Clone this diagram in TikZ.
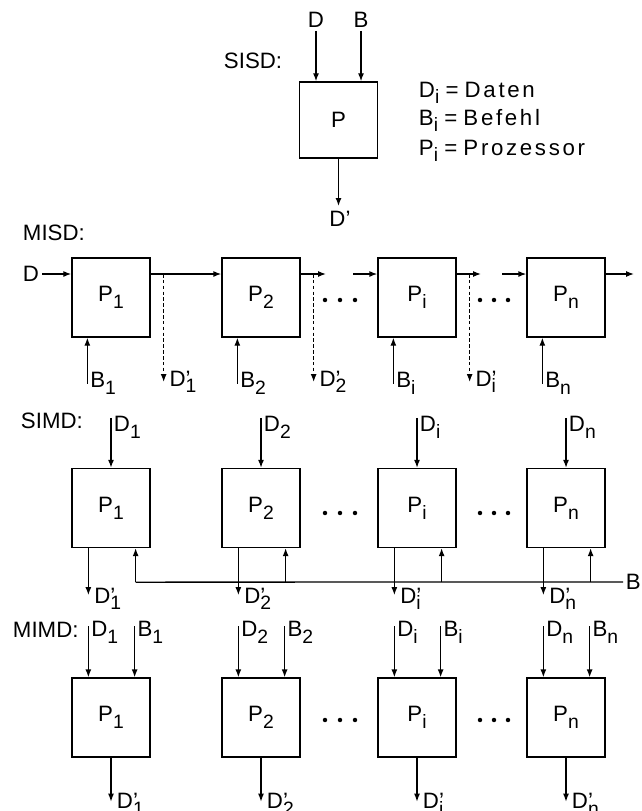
\documentclass[tikz,border=0pt]{standalone}
\usepackage{fontspec}
\setmainfont{Liberation Sans}
\usetikzlibrary{arrows.meta,calc}

\newcommand{\sub}[2]{#1\raisebox{-0.3em}{\fontsize{16.5}{16.5}\selectfont #2}}
\newcommand{\dout}[1]{D\rlap{’}\raisebox{-0.3em}{\fontsize{16.5}{16.5}\selectfont #1}}

\begin{document}
\begin{tikzpicture}[x=0.03cm,y=-0.03cm,
  font=\fontsize{19}{22}\selectfont,
  >={Latex[length=2.4mm,width=1.8mm]}, line width=1.1pt,
  proc/.style={draw,minimum width=2.34cm,minimum height=2.37cm,inner sep=0pt},
  lab/.style={inner sep=2pt}]
  \useasboundingbox (0,0) rectangle (641,811);

  % SISD
  \node[lab,anchor=base west] at (221,68) {SISD:};
  \node[proc,minimum height=2.28cm] (p) at (338.5,120) {P};
  \node[lab,anchor=base] (d) at (316,28) {D};
  \node[lab,anchor=base] (b) at (361,28) {B};
  \draw[->] (d) -- (d |- p.north);
  \draw[->] (b) -- (b |- p.north);
  \coordinate (pout) at (338.5,206);
  \draw[->] (p) -- (pout);
  \node[lab,anchor=base] at (340,226) {D’};
  \node[lab,anchor=base west] at (416,97) {\sub{D}{i} = {\addfontfeatures{LetterSpace=12}Daten}};
  \node[lab,anchor=base west] at (416,125) {\sub{B}{i} = {\addfontfeatures{LetterSpace=12}Befehl}};
  \node[lab,anchor=base west] at (416,155) {\sub{P}{i} = {\addfontfeatures{LetterSpace=12}Prozessor}};

  % MISD
  \node[lab,anchor=base west] at (20,240) {MISD:};
  \node[lab,anchor=west] (md) at (20,274) {D};
  \foreach \k/\x in {1/111,2/261,i/417,n/566}
    \node[proc] (misd\k) at (\x,297.5) {\sub{P}{\k}};
  \coordinate (m2out) at (326,274);
  \coordinate (miin) at (353,274);
  \coordinate (miout) at (481,274);
  \coordinate (mnin) at (502,274);
  \coordinate (mnout) at (634,274);
  \draw[->] (md) -- (md -| misd1.west);
  \draw[->] (misd1.east |- md) -- (misd2.west |- md);
  \draw[->] (misd2.east |- md) -- (m2out);
  \draw[->] (miin) -- (misdi.west |- md);
  \draw[->] (misdi.east |- md) -- (miout);
  \draw[->] (mnin) -- (misdn.west |- md);
  \draw[->] (misdn.east |- md) -- (mnout);
  \foreach \k in {1,2,i} {
    \draw[->,dash pattern=on 3pt off 2pt] ($(misd\k.east |- md)+(13,0)$) coordinate (mt\k) -- ++(0,108) coordinate (mo\k);
    \node[lab,anchor=base west] at ($(mo\k)+(3,4)$) {\dout{\k}};
  }
  \foreach \k in {1,2,i,n} {
    \draw[->] ($(misd\k.south west)+(16,46)$) coordinate (mb\k) -- ($(misd\k.south west)+(16,0)$);
    \node[lab,anchor=base west] at ($(mb\k)+(0,4)$) {\sub{B}{\k}};
  }

  % SIMD
  \node[lab,anchor=base west] at (18,428) {SIMD:};
  \foreach \k/\x in {1/111,2/261,i/417,n/566}
    \node[proc] (simd\k) at (\x,508) {\sub{P}{\k}};
  \foreach \k in {1,2,i,n} {
    \draw[->] ($(simd\k.north)+(0,-50)$) coordinate (sd\k) -- (simd\k.north);
    \node[lab,anchor=base west] at ($(sd\k)+(0,14)$) {\sub{D}{\k}};
    \draw[->] ($(simd\k.south west)+(17,0)$) -- ++(0,47) coordinate (so\k);
    \node[lab,anchor=base west] at ($(so\k)+(3,8)$) {\dout{\k}};
    \draw[->] ($(simd\k.south east)+(-15,34)$) coordinate (su\k) -- ($(simd\k.south east)+(-15,0)$);
  }
  \coordinate (bus) at (623,582);
  \draw (su1) -- (bus);
  \node[lab,anchor=west] at (bus) {B};

  % MIMD
  \node[lab,anchor=base west] at (10,637) {MIMD:};
  \foreach \k/\x in {1/111,2/261,i/417,n/566}
    \node[proc] (mimd\k) at (\x,717.5) {\sub{P}{\k}};
  \foreach \k in {1,2,i,n} {
    \draw[->] ($(mimd\k.north west)+(17,-51)$) coordinate (dd\k) -- ($(mimd\k.north west)+(17,0)$);
    \node[lab,anchor=base west] at ($(dd\k)+(0,10)$) {\sub{D}{\k}};
    \draw[->] ($(mimd\k.north east)+(-16,-51)$) coordinate (bb\k) -- ($(mimd\k.north east)+(-16,0)$);
    \node[lab,anchor=base west] at ($(bb\k)+(0,10)$) {\sub{B}{\k}};
    \draw[->] (mimd\k) -- ($(mimd\k.south)+(0,44)$) coordinate (mo\k);
    \node[lab,anchor=base west] at ($(mo\k)+(3,7)$) {\dout{\k}};
  }

  % dots between the processors
  \foreach \y in {300,513,720}
    \foreach \x in {325,340,355,480,494,508}
      \fill (\x,\y) circle (1.9pt);
\end{tikzpicture}
\end{document}
